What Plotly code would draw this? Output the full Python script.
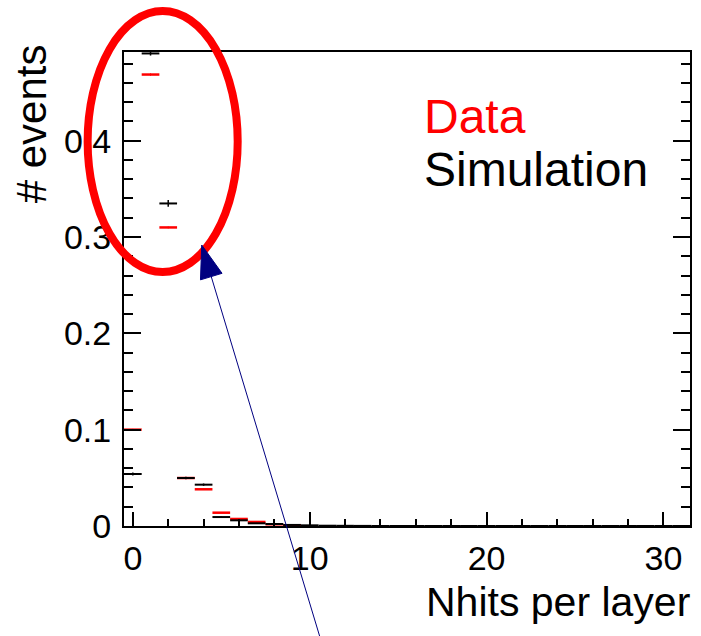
import plotly.graph_objects as go

# ---- data ----
bin_centers = list(range(32))
bin_half_width = [0.5] * 32
sim_values = [0.054, 0.4905, 0.3348, 0.0498, 0.0429, 0.0093, 0.0059, 0.0028,
              0.0021, 0.0011, 0.0007, 0.0003, 0.0002, 0.0001] + [0.0] * 18
sim_errors = [0.0015, 0.0022, 0.0035, 0.0012, 0.0012, 0.0008, 0.0006, 0.0004,
              0.0003, 0.0002, 0.0002, 0.0001, 0.0001, 0.0001] + [0.0] * 18
data_values = [0.100, 0.4686, 0.3099, 0.0498, 0.0381, 0.0138, 0.0073, 0.0042,
               0.0018, 0.0008] + [None] * 22
data_errors = [0.0008, 0.0012, 0.0010, 0.0005, 0.0005, 0.0003, 0.0002, 0.0002,
               0.0001, 0.0001] + [0.0] * 22
x_tick_vals = [0, 10, 20, 30]
y_tick_vals = [0, 0.1, 0.2, 0.3, 0.4]
legend_labels = ["Data", "Simulation"]
x_title = "Nhits per layer"
y_title = "# events"

W, H = 701, 636
L, R, T, B = 124, 9, 52, 110
FONT = "Liberation Sans, Arial, sans-serif"


def px(X):
    return (X - L) / (W - L - R)


def py(Y):
    return (H - B - Y) / (H - T - B)


fig = go.Figure()

fig.add_trace(go.Scatter(
    x=bin_centers, y=data_values, mode="markers",
    marker=dict(size=0.1, color="#ff0000"),
    error_x=dict(type="data", array=bin_half_width, color="#ff0000",
                 thickness=2.5, width=0),
    error_y=dict(type="data", array=data_errors, color="#ff0000",
                 thickness=1, width=0),
    showlegend=False, hoverinfo="skip"))

fig.add_trace(go.Scatter(
    x=bin_centers, y=sim_values, mode="markers",
    marker=dict(size=0.1, color="#000000"),
    error_x=dict(type="data", array=bin_half_width, color="#000000",
                 thickness=2, width=0),
    error_y=dict(type="data", array=sim_errors, color="#000000",
                 thickness=1.5, width=0),
    showlegend=False, hoverinfo="skip"))

axis_common = dict(showgrid=False, zeroline=False, showline=True,
                   linecolor="black", linewidth=2, ticks="inside",
                   tickcolor="black", tickwidth=2,
                   tickfont=dict(family=FONT, size=34, color="black"))

fig.update_xaxes(range=[-0.5, 31.5], tickvals=x_tick_vals, ticklen=14,
                 mirror=True, ticklabelstandoff=1,
                 minor=dict(dtick=2, tick0=0, ticks="inside", ticklen=7,
                            tickcolor="black", tickwidth=2),
                 **axis_common)
fig.update_yaxes(range=[0, 0.492], tickvals=y_tick_vals, ticklen=17,
                 mirror="ticks", ticklabelstandoff=4,
                 minor=dict(dtick=0.02, tick0=0, ticks="inside", ticklen=9,
                            tickcolor="black", tickwidth=2),
                 **axis_common)

annotations = [
    dict(text=x_title, xref="paper", yref="paper", x=px(694), y=py(602),
         xanchor="right", yanchor="middle", showarrow=False,
         font=dict(family=FONT, size=41, color="black")),
    dict(text=y_title, xref="paper", yref="paper", x=px(31), y=py(124),
         xanchor="center", yanchor="middle", textangle=-90, showarrow=False,
         font=dict(family=FONT, size=42, color="black")),
    dict(text=legend_labels[0], xref="paper", yref="paper", x=px(423), y=py(116),
         xanchor="left", yanchor="middle", showarrow=False,
         font=dict(family=FONT, size=48, color="#ff0000")),
    dict(text=legend_labels[1], xref="paper", yref="paper", x=px(423), y=py(169),
         xanchor="left", yanchor="middle", showarrow=False,
         font=dict(family=FONT, size=48, color="black")),
]

# ---- overlay: red ellipse and navy arrow ----
ecx, ecy, erx, ery = 162.8, 141.5, 75.3, 130.5
tip = (202.0, 245.0)
tail = (321.5, 640.0)
dxl, dyl = tip[0] - tail[0], tip[1] - tail[1]
ln = (dxl ** 2 + dyl ** 2) ** 0.5
ux, uy = dxl / ln, dyl / ln
head_len, head_half = 33.0, 11.3
bmx, bmy = tip[0] - ux * head_len, tip[1] - uy * head_len
c1 = (bmx - uy * head_half, bmy + ux * head_half)
c2 = (bmx + uy * head_half, bmy - ux * head_half)

shapes = [
    dict(type="circle", xref="paper", yref="paper", layer="above",
         x0=px(ecx - erx), x1=px(ecx + erx), y0=py(ecy + ery), y1=py(ecy - ery),
         line=dict(color="#ff0000", width=8)),
    dict(type="line", xref="paper", yref="paper", layer="above",
         x0=px(tail[0]), y0=py(tail[1]), x1=px(bmx), y1=py(bmy),
         line=dict(color="#000080", width=1)),
    dict(type="path", xref="paper", yref="paper", layer="above",
         path=(f"M{px(tip[0])},{py(tip[1])} L{px(c1[0])},{py(c1[1])} "
               f"L{px(c2[0])},{py(c2[1])} Z"),
         fillcolor="#000080", line=dict(color="#000080", width=1)),
]

fig.update_layout(width=W, height=H, margin=dict(l=L, r=R, t=T, b=B),
                  plot_bgcolor="white", paper_bgcolor="white",
                  annotations=annotations, shapes=shapes, showlegend=False)

fig.write_html("out.html")
